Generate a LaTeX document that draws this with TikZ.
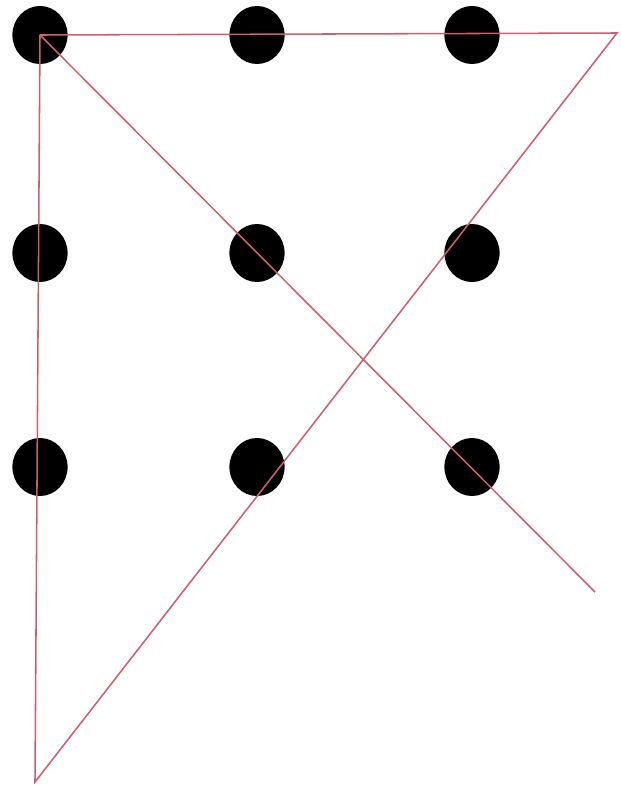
\documentclass[tikz,border=0pt]{standalone}
\usepackage{xcolor}
\usepackage{tikz}
\usetikzlibrary{calc,positioning,shapes.geometric}
\definecolor{penred}{RGB}{205,95,110}

\begin{document}
\begin{tikzpicture}[
 x=0.025cm,y=-0.025cm,
 dot/.style={ellipse,fill=black,minimum width=1.38cm,minimum height=1.45cm,inner sep=0pt},
 stroke/.style={draw=penred,line width=1.1pt}]
\useasboundingbox (0,0) rectangle (620,803);
% the nine dots
\foreach \row/\y in {a/35,b/253,c/467}{
 \foreach \col/\x in {1/40,2/257,3/472}{
  \node[dot] (d\row\col) at (\x,\y) {};
 }
}
% turning points outside the square
\coordinate (topright) at (617,33);
\coordinate (bottomleft) at (35,782);
\coordinate (diagend) at (595,592);
\draw[stroke] (da1.center) -- (topright) -- (bottomleft) -- (da1.center);
\draw[stroke] (da1.center) -- (diagend);
\end{tikzpicture}
\end{document}
